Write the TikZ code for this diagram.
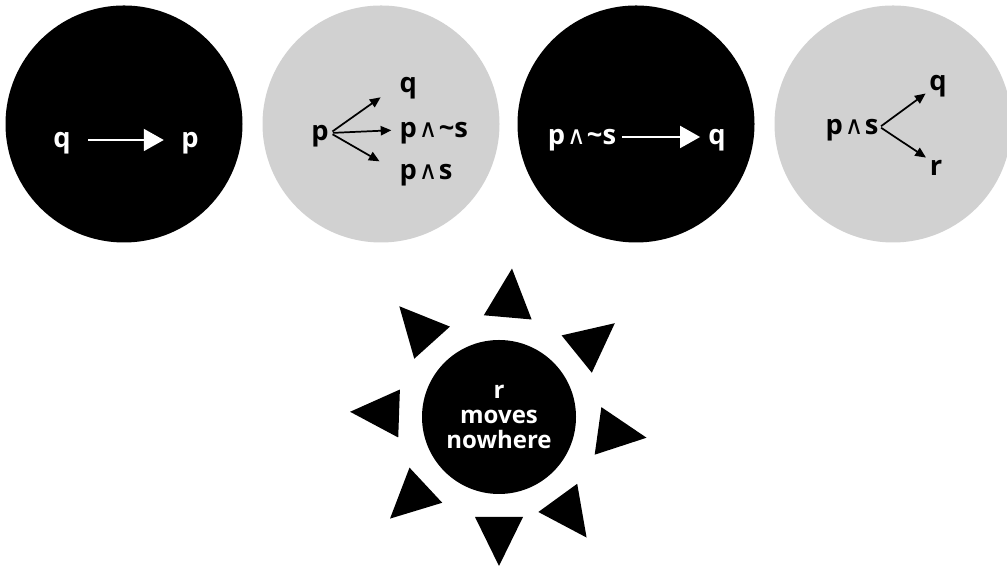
\documentclass[tikz,border=0pt]{standalone}
\usepackage{fontspec}
\setmainfont{Open Sans}
\newfontfamily\wedgefont{DejaVu Sans}
\usepackage{tikz}
\usetikzlibrary{arrows.meta,calc}
\definecolor{ink}{RGB}{0,0,0}
\definecolor{discgray}{RGB}{209,209,209}
\newcommand{\andsym}{{\kern1.5pt\wedgefont\fontsize{19}{19}\selectfont\mdseries ∧\kern1pt}}
\newcommand{\notsym}{\textasciitilde}

\begin{document}
\begin{tikzpicture}[x=0.75pt,y=0.75pt,
    disc/.style={circle,minimum size=177.75pt,inner sep=0pt},
    blackdisc/.style={disc,fill=ink},
    graydisc/.style={disc,fill=discgray},
    lbl/.style={font=\fontsize{20.5}{23}\selectfont\bfseries,
      inner sep=1pt,text height=11pt,text depth=0pt},
    whitelbl/.style={lbl,text=white},
    whitearrow/.style={draw=white,line width=1.5pt,
      -{Triangle[length=15pt,width=16.5pt]}},
    fan/.style={draw=ink,line width=1.3pt,
      -{Triangle[length=8pt,width=7pt]}},
    ray/.style={fill=ink}]
  \useasboundingbox (0,0) rectangle (1007,566);

  \node[blackdisc] (d1) at (124,442) {};
  \node[graydisc]  (d2) at (381,442) {};
  \node[blackdisc] (d3) at (636,442) {};
  \node[graydisc]  (d4) at (893,442) {};

  % q moves to p
  \node[whitelbl] (q1) at (62,426) {q};
  \node[whitelbl] (p1) at (190,426) {p};
  \draw[whitearrow,shorten <=12pt,shorten >=12pt] (q1.east) -- (p1.west);

  % p splits three ways
  \node[lbl] (p2) at (320,433) {p};
  \node[lbl,anchor=west] (q2) at (398,481) {q};
  \node[lbl,anchor=west] (pns2) at (398,436) {p\andsym\notsym s};
  \node[lbl,anchor=west] (ps2) at (398,394) {p\andsym s};
  \draw[fan,shorten <=2pt,shorten >=16pt] (p2.east) -- (q2.west);
  \draw[fan,shorten <=2pt,shorten >=5pt] (p2.east) -- (pns2.west);
  \draw[fan,shorten <=2pt,shorten >=16pt] (p2.east) -- (ps2.west);

  \node[whitelbl] (pns3) at (582,429) {p\andsym\notsym s};
  \node[whitelbl] (q3) at (717,429) {q};
  \draw[whitearrow,shorten <=3pt,shorten >=5pt] (pns3.east) -- (q3.west);

  \node[lbl] (ps4) at (852,439) {p\andsym s};
  \node[lbl] (q4) at (938,483) {q};
  \node[lbl] (r4) at (936,398) {r};
  \draw[fan,shorten <=1pt,shorten >=2pt] (ps4.east) -- (q4.south west);
  \draw[fan,shorten <=1pt,shorten >=2pt] (ps4.east) -- (r4.north west);

  % r stays put
  \node[disc,fill=ink,minimum size=115.5pt,text=white,align=center,
    font=\fontsize{18}{19}\selectfont\bfseries] (sun) at (499,149)
    {r\\moves\\nowhere};
  \foreach \a in {85,39,-8,-54,-90,-137,178,132}
    \fill[ray] ($(sun)+(\a:149)$) -- ($(sun)+(\a:100)+(\a+90:24)$)
      -- ($(sun)+(\a:100)+(\a-90:24)$) -- cycle;
\end{tikzpicture}
\end{document}
